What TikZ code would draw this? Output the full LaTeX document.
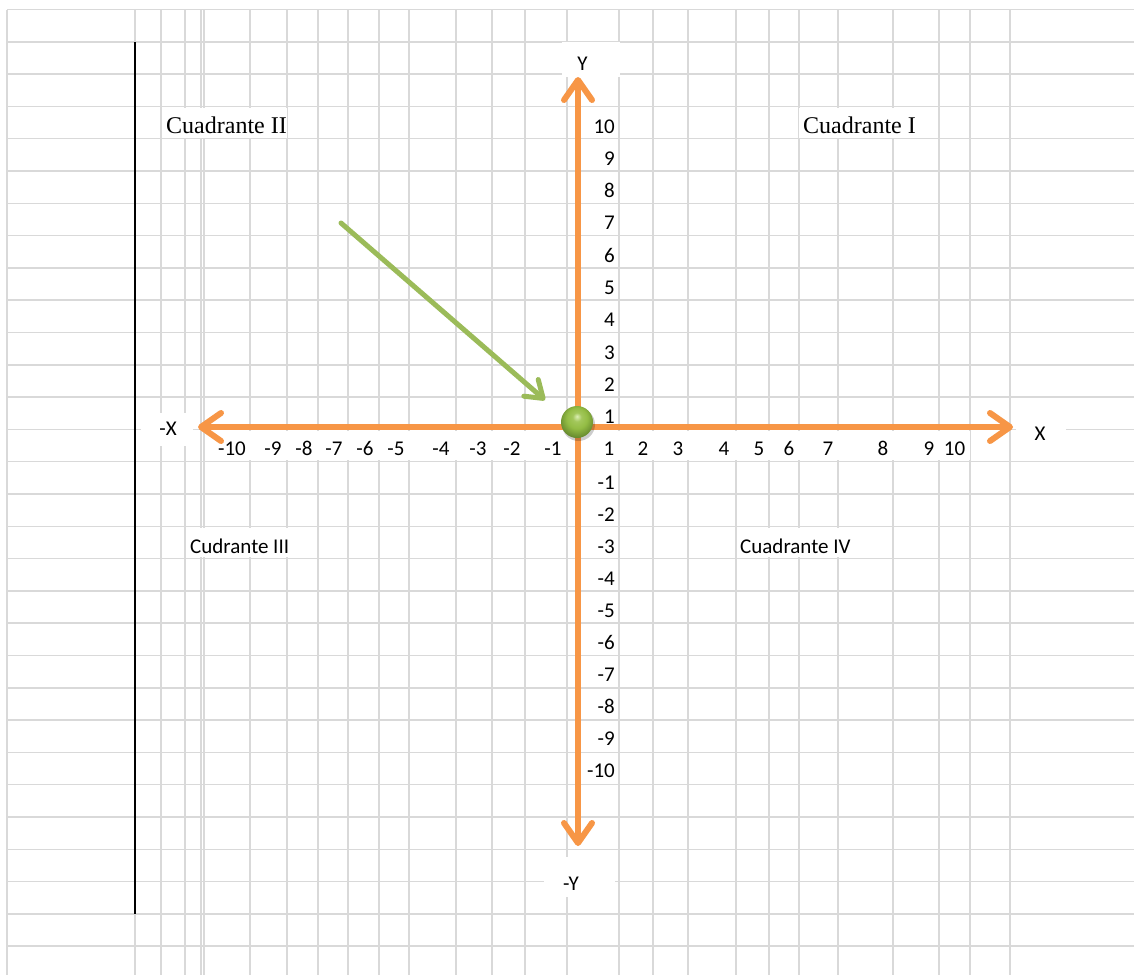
\documentclass[tikz,border=0pt]{standalone}
\usepackage{fontspec}
\setmainfont{Carlito}
\newfontfamily\serifx{Liberation Serif}
\usetikzlibrary{arrows.meta}
\definecolor{gridc}{HTML}{D9D9D9}
\definecolor{axisor}{HTML}{F79646}
\definecolor{ptgreen}{HTML}{9BBB59}
\definecolor{ballhi}{HTML}{DCEFB4}
\definecolor{ballmid}{HTML}{94BD45}
\definecolor{balldark}{HTML}{5F822A}
\pgfdeclareradialshading{gball}{\pgfpoint{0bp}{9bp}}{color(0bp)=(ballhi); color(7bp)=(ballmid!80!ballhi); color(16bp)=(ballmid); color(30bp)=(balldark); color(50bp)=(balldark)}
\begin{document}
\begin{tikzpicture}[x=1pt,y=-1pt,
  gridline/.style={draw=gridc,line width=1.5pt},
  cellfill/.style={fill=white},
  num/.style={font=\fontsize{21}{21}\selectfont,inner sep=0pt},
  quad/.style={font=\serifx\fontsize{24}{24}\selectfont,inner sep=0pt,anchor=base west},
  quadsans/.style={font=\fontsize{21}{21}\selectfont,inner sep=0pt,anchor=base west},
  axisarrow/.style={draw=axisor,line width=6pt,line cap=round,
    {Straight Barb[length=20pt,width=28pt,round]}-{Straight Barb[length=20pt,width=28pt,round]},
    preaction={draw=black!60,opacity=0.22,transform canvas={shift={(1pt,-2pt)}}}},
  greenarrow/.style={draw=ptgreen,line width=5pt,line cap=round,
    -{Straight Barb[length=16pt,width=22pt,round]},
    preaction={draw=black!60,opacity=0.2,transform canvas={shift={(1pt,-2pt)}}}}
]
\useasboundingbox (0,0) rectangle (1134,975);
\fill[white] (0,0) rectangle (1134,975);
% grid
\foreach \k in {0,...,29}
  \draw[gridline] (7,9.5+32.3*\k) -- (1134,9.5+32.3*\k);
\foreach \x in {7,135,161,185,201,204,250,287,318,348,379,409,456,492,525,567,619,653,688,736,769,799,838,893,939,970,1010}
  \draw[gridline] (\x,9.5) -- (\x,975);
\draw[black,line width=2pt] (135,42) -- (135,914);
% cells hiding grid lines
\fill[cellfill] (562,42) rectangle (620,77);
\fill[cellfill] (544,857) rectangle (615,897);
\fill[cellfill] (141,413) rectangle (193,446);
\fill[cellfill] (1016,414) rectangle (1066,452);
\fill[cellfill] (163,108) rectangle (287,138);
\fill[cellfill] (799,108) rectangle (937,138);
\fill[cellfill] (186,528) rectangle (317,557);
\fill[cellfill] (737,528) rectangle (892,557);
\fill[cellfill] (207,431) rectangle (970,460);
% axes
\coordinate (xl) at (198,427);
\coordinate (xr) at (1013,427);
\coordinate (yt) at (578,77);
\coordinate (yb) at (578,846);
\draw[axisarrow] (xl) -- (xr);
\draw[axisarrow] (yb) -- (yt);
% green arrow and point
\coordinate (ga) at (341,223);
\coordinate (gb) at (545,400);
\draw[greenarrow] (ga) -- (gb);
\fill[black,opacity=0.2] (578.5,424.5) circle (16.5);
\node[circle,minimum size=32pt,inner sep=0pt,shading=gball] (origin) at (577,422) {};
% axis names
\node[num] (lY) at (582.5,64) {Y};
\node[num] (lnY) at (571,883.5) {-Y};
\node[num] (lnX) at (168,429) {-X};
\node[num] (lX) at (1040,434) {X};
% x labels
\foreach \v/\c in {-10/232,-9/273,-8/304,-7/334,-6/365,-5/396,-4/441,-3/478,-2/512,-1/553,1/609,2/643,3/678,4/724,5/759,6/789,7/828,8/883,9/929,10/954.5}
  \node[num,anchor=base] (xn\v) at (\c,455) {\v};
% y labels
\foreach \v [count=\i from 0] in {10,9,8,7,6,5,4,3,2,1}
  \node[num,anchor=base east] (yp\v) at (615,133+32.3*\i) {\v};
\foreach \v [count=\i from 0] in {-1,-2,-3,-4,-5,-6,-7,-8,-9,-10}
  \node[num,anchor=base east] (yn\i) at (615,489+32.1*\i) {\v};
% quadrant labels
\node[quad] (q2) at (166,133) {Cuadrante II};
\node[quad] (q1) at (803,133) {Cuadrante I};
\node[quadsans] (q3) at (190,553) {Cudrante III};
\node[quadsans] (q4) at (740,553) {Cuadrante IV};
\end{tikzpicture}
\end{document}
